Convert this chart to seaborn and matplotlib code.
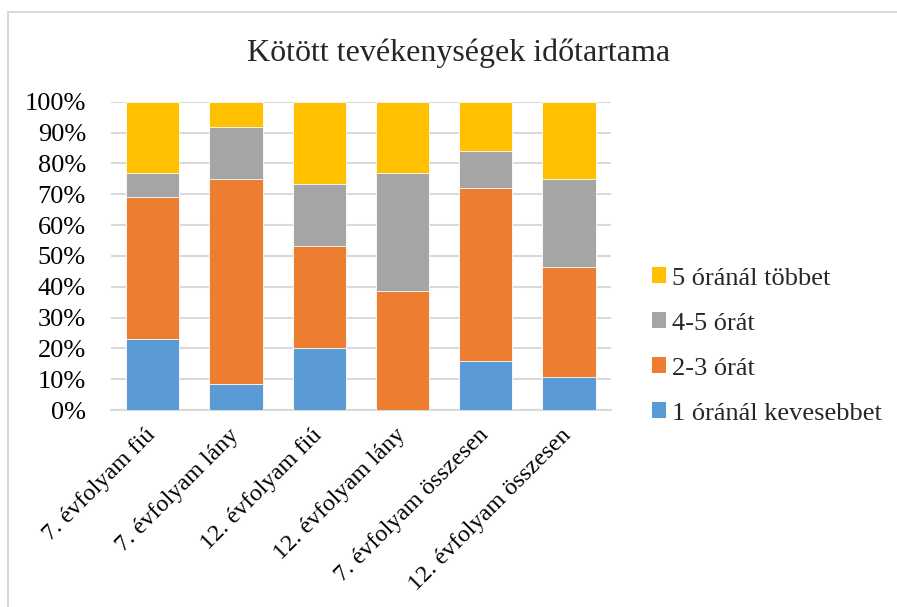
import matplotlib
matplotlib.use("Agg")
import matplotlib.pyplot as plt
from matplotlib.patches import Patch, Rectangle
from matplotlib.ticker import FuncFormatter
from matplotlib.transforms import ScaledTranslation
import pandas as pd
import seaborn as sns

# Data (percentages)
groups = ["7. évfolyam fiú", "7. évfolyam lány", "12. évfolyam fiú",
          "12. évfolyam lány", "7. évfolyam összesen", "12. évfolyam összesen"]
kevesebb_1 = [23.1, 8.3, 20.0, 0.0, 16.0, 10.7]
ora_2_3 = [46.2, 66.7, 33.3, 38.5, 56.0, 35.7]
ora_4_5 = [7.7, 16.7, 20.0, 38.5, 12.0, 28.6]
tobb_5 = [23.1, 8.3, 26.7, 23.1, 16.0, 25.0]

series_names = ["1 óránál kevesebbet", "2-3 órát", "4-5 órát", "5 óránál többet"]
colors = ["#5B9BD5", "#ED7D31", "#A5A5A5", "#FFC000"]

df = pd.DataFrame({"csoport": groups, series_names[0]: kevesebb_1,
                   series_names[1]: ora_2_3, series_names[2]: ora_4_5,
                   series_names[3]: tobb_5})
# normalise to 100% stacks
vals = df[series_names]
vals = vals.div(vals.sum(axis=1), axis=0) * 100
cum = vals.cumsum(axis=1)

sns.set_theme(style="white")
plt.rcParams["font.family"] = ["Liberation Serif", "DejaVu Serif"]

fig = plt.figure(figsize=(8.97, 6.07), dpi=100)
ax = fig.add_axes([0.1237, 0.3245, 0.5571, 0.5079])

# stacked bars: draw cumulative totals from the top layer downwards
for name, col in reversed(list(zip(series_names, colors))):
    sns.barplot(x=df["csoport"], y=cum[name], color=col, width=0.64,
                edgecolor="white", linewidth=0.6, saturation=1, ax=ax, zorder=3)

ax.set_xlim(-0.5, len(groups) - 0.5)
ax.set_ylim(0, 100)
ax.set_yticks(range(0, 101, 10))
ax.yaxis.set_major_formatter(FuncFormatter(lambda v, p: f"{int(v)}%"))
ax.grid(axis="y", color="#D9D9D9", linewidth=1.5, zorder=0)
ax.set_axisbelow(True)
for s in ["top", "right", "left"]:
    ax.spines[s].set_visible(False)
ax.spines["bottom"].set_color("#D9D9D9")
ax.spines["bottom"].set_linewidth(1.5)
ax.set_xlabel("")
ax.set_ylabel("")
ax.tick_params(axis="y", length=0, pad=18, labelsize=19, labelcolor="black")
ax.tick_params(axis="x", length=0, pad=12, labelsize=17.5, labelcolor="black")
shift = ScaledTranslation(-0.08, 0.02, fig.dpi_scale_trans)
for lab in ax.get_xticklabels():
    lab.set_rotation(45)
    lab.set_ha("right")
    lab.set_va("top")
    lab.set_rotation_mode("anchor")
    lab.set_transform(lab.get_transform() + shift)

fig.text(0.511, 0.913, "Kötött tevékenységek időtartama", ha="center",
         va="center", fontsize=23)

handles = [Patch(facecolor=c, edgecolor="none") for c in colors]
leg = fig.legend(handles[::-1], series_names[::-1], loc="center left",
                 bbox_to_anchor=(0.715, 0.430), frameon=False, fontsize=19,
                 handlelength=0.55, handleheight=0.55, handletextpad=0.2,
                 labelspacing=0.86, borderaxespad=0)

# light chart-area border (top and left visible in the crop)
fig.patches.append(Rectangle((8 / 897, -0.1), 1.2, 1.1 - 12 / 607,
                             transform=fig.transFigure, fill=False,
                             edgecolor="#D9D9D9", linewidth=1.5))

fig.savefig("out.png", dpi=100)
